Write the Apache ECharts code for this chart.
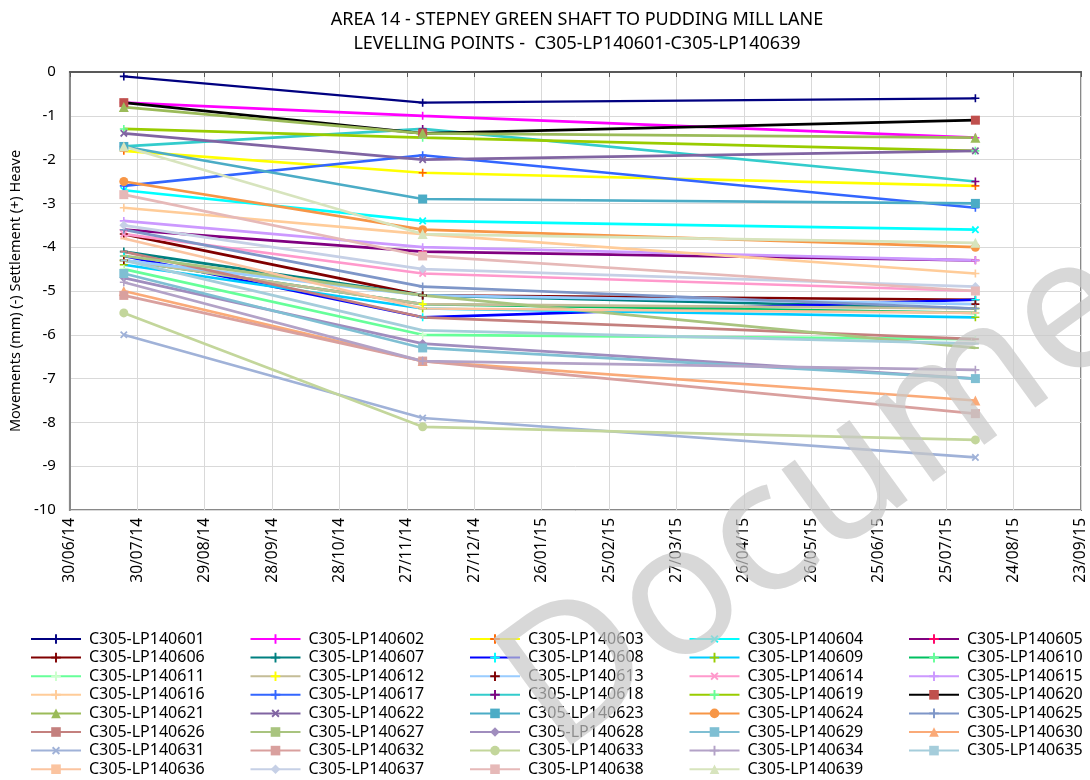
<!DOCTYPE html>
<html>
<head>
<meta charset="utf-8">
<script src="https://cdn.jsdelivr.net/npm/echarts@6/dist/echarts.min.js"></script>
<style>html,body{margin:0;padding:0;background:#fff}#c{width:1090px;height:780px}</style>
</head>
<body>
<div id="c"></div>
<script>
// ---- data ----
const titleLine1 = 'AREA 14 - STEPNEY GREEN SHAFT TO PUDDING MILL LANE';
const titleLine2 = 'LEVELLING POINTS -  C305-LP140601-C305-LP140639';
const yAxisTitle = 'Movements (mm) (-) Settlement (+) Heave';
const watermarkText = 'Document';
const axisStartDate = '2014-06-30';
const axisEndDate = '2015-09-23';
const surveyDates = ['2014-07-24', '2014-12-04', '2015-08-07'];
const pointNames = [
 'C305-LP140601','C305-LP140602','C305-LP140603','C305-LP140604','C305-LP140605',
 'C305-LP140606','C305-LP140607','C305-LP140608','C305-LP140609','C305-LP140610',
 'C305-LP140611','C305-LP140612','C305-LP140613','C305-LP140614','C305-LP140615',
 'C305-LP140616','C305-LP140617','C305-LP140618','C305-LP140619','C305-LP140620',
 'C305-LP140621','C305-LP140622','C305-LP140623','C305-LP140624','C305-LP140625',
 'C305-LP140626','C305-LP140627','C305-LP140628','C305-LP140629','C305-LP140630',
 'C305-LP140631','C305-LP140632','C305-LP140633','C305-LP140634','C305-LP140635',
 'C305-LP140636','C305-LP140637','C305-LP140638','C305-LP140639'];
const valuesJul14 = [-0.1,-0.7,-1.8,-2.7,-3.6, -3.7,-4.1,-4.2,-4.4,-4.3, -4.5,-4.3,-4.3,-3.7,-3.4, -3.1,-2.6,-1.7,-1.3,-0.7, -0.8,-1.4,-1.7,-2.5,-3.6, -4.1,-4.2,-4.7,-4.6,-5.0, -6.0,-5.1,-5.5,-4.8,-4.3, -3.8,-3.5,-2.8,-1.7];
const valuesDec14 = [-0.7,-1.0,-2.3,-3.4,-4.1, -5.1,-5.1,-5.6,-5.4,-5.3, -6.0,-5.3,-5.1,-4.6,-4.0, -3.7,-1.9,-1.3,-1.5,-1.4, -1.4,-2.0,-2.9,-3.6,-4.9, -5.6,-5.1,-6.2,-6.3,-6.6, -7.9,-6.6,-8.1,-6.6,-5.9, -5.4,-4.5,-4.2,-3.7];
const valuesAug15 = [-0.6,-1.5,-2.6,-3.6,-4.3, -5.2,-5.4,-5.2,-5.6,-5.5, -6.1,-5.4,-5.3,-5.0,-4.3, -4.6,-3.1,-2.5,-1.8,-1.1, -1.5,-1.8,-3.0,-4.0,-5.4, -6.1,-6.3,-7.0,-7.0,-7.5, -8.8,-7.8,-8.4,-6.8,-6.2, -5.5,-4.9,-5.0,-3.9];

// ---- styles ----
const lineColors = ['#000080','#FF00FF','#FFFF00','#00FFFF','#800080','#800000','#008080','#0000FF','#00CCFF','#00C060',
 '#66FF99','#C4BD97','#99CCFF','#FF99CC','#CC99FF','#FFCC99','#3366FF','#33CCCC','#99CC00','#000000',
 '#9BBB59','#8064A2','#4BACC6','#F79646','#7E96C8','#C4807E','#A9C47F','#A08DBE','#7FBFD3','#FAAA78',
 '#A0B2D8','#D9A09E','#C3D69B','#B3A2C7','#A5CDDB','#FBC4A0','#C6D0E6','#E6B9B8','#D7E4BD'];
const markerColors = ['#000080','#FF00FF','#FF6600','#00FFFF','#FF0066','#800000','#008080','#00FFFF','#99CC00','#66FF99',
 '#CCFFCC','#FFFF00','#800000','#FF99CC','#CC99FF','#FFCC99','#3366FF','#800080','#66FF99','#C0504D',
 '#9BBB59','#8064A2','#4BACC6','#F79646','#7E96C8','#C4807E','#A9C47F','#A08DBE','#7FBFD3','#FAAA78',
 '#A0B2D8','#D9A09E','#C3D69B','#B3A2C7','#A5CDDB','#FBC4A0','#C6D0E6','#E6B9B8','#D7E4BD'];
const markerKinds = ['plus','plus','plus','x','plus','plus','plus','plus','plus','plus',
 'plus','plus','plus','x','plus','plus','plus','plus','plus','square',
 'triangle','x','square','circle','plus','dash','dash','diamond','square','triangle',
 'x','square','circle','plus','dash','dash','diamond','square','triangle'];
const PLUS = 'path://M4,0h2v4h4v2h-4v4h-2v-4h-4v-2h4z';
function symbolFor(k){
  switch(k){
    case 'plus': return {symbol: PLUS, symbolSize: 8, symbolRotate: 0};
    case 'x': return {symbol: PLUS, symbolSize: 9, symbolRotate: 45};
    case 'square': return {symbol: 'rect', symbolSize: 9, symbolRotate: 0};
    case 'triangle': return {symbol: 'triangle', symbolSize: 10, symbolRotate: 0};
    case 'circle': return {symbol: 'circle', symbolSize: 9, symbolRotate: 0};
    case 'diamond': return {symbol: 'diamond', symbolSize: 9, symbolRotate: 0};
    case 'dash': return {symbol: 'rect', symbolSize: [7,2], symbolRotate: 0};
  }
}
const DAY = 86400000;
const t0 = Date.parse(axisStartDate + 'T00:00:00Z');
const dayOf = s => Math.round((Date.parse(s + 'T00:00:00Z') - t0) / DAY);
const xMax = dayOf(axisEndDate);
const xs = surveyDates.map(dayOf);
const pad = n => (n < 10 ? '0' : '') + n;
const fmt = d => { const dt = new Date(t0 + d * DAY); return pad(dt.getUTCDate()) + '/' + pad(dt.getUTCMonth() + 1) + '/' + pad(dt.getUTCFullYear() % 100); };

const series = pointNames.map((name, i) => {
  const s = symbolFor(markerKinds[i]);
  return {
    name, type: 'line', z: 2,
    data: [[xs[0], valuesJul14[i]], [xs[1], valuesDec14[i]], [xs[2], valuesAug15[i]]],
    symbol: s.symbol, symbolSize: s.symbolSize, symbolRotate: s.symbolRotate, showSymbol: true,
    lineStyle: {color: lineColors[i], width: i === 0 ? 2.2 : 2.7},
    itemStyle: {color: markerColors[i], borderWidth: 0},
    emphasis: {disabled: true}, animation: false
  };
});

const font = 'Noto Sans';
// one legend entry per component, laid out in a 5-column grid (row-major order)
const legends = pointNames.map((name, i) => ({
  orient: 'horizontal', left: 30 + (i % 5) * 219.5, top: 631 + Math.floor(i / 5) * 18.6, padding: 0,
  itemWidth: 50, itemHeight: 12,
  data: [name],
  textStyle: {fontFamily: font, fontSize: 16, color: '#000', padding: [0,0,0,3]},
  selectedMode: false
}));

const chart = echarts.init(document.getElementById('c'), null, {renderer: 'canvas'});
chart.setOption({
  animation: false,
  backgroundColor: '#fff',
  title: {text: titleLine1 + '\n' + titleLine2, left: 572, textAlign: 'center', top: 3,
    textStyle: {fontFamily: font, fontSize: 18, fontWeight: 'normal', color: '#000', lineHeight: 24}},
  legend: legends,
  grid: {left: 64, right: 9, top: 72, bottom: 270, show: true, borderColor: '#898989', borderWidth: 2},
  xAxis: {type: 'value', min: 0, max: xMax, interval: 30,
    axisLine: {show: true, lineStyle: {color: '#595959', width: 2}},
    axisTick: {show: true, length: 5, lineStyle: {color: '#595959'}},
    splitLine: {show: true, lineStyle: {color: '#d9d9d9', width: 1}},
    axisLabel: {rotate: 90, formatter: v => fmt(v), fontFamily: font, fontSize: 15.5, color: '#000', margin: 8}},
  yAxis: {type: 'value', min: -10, max: 0, interval: 1,
    name: yAxisTitle, nameLocation: 'middle', nameGap: 44,
    nameTextStyle: {fontFamily: font, fontSize: 14.5, color: '#000'},
    axisLine: {show: true, lineStyle: {color: '#898989', width: 2}},
    axisTick: {show: false},
    splitLine: {show: true, lineStyle: {color: '#d9d9d9', width: 1}},
    axisLabel: {fontFamily: font, fontSize: 15, color: '#000', margin: 14}},
  graphic: [{
    type: 'text', x: 893, y: 446, rotation: 36 * Math.PI / 180, z: 100, silent: true,
    style: {text: watermarkText, font: '185px "Noto Sans"', fill: 'rgba(200,200,200,0.7)',
      textAlign: 'center', textVerticalAlign: 'middle'}
  }],
  series
});
</script>
</body>
</html>
